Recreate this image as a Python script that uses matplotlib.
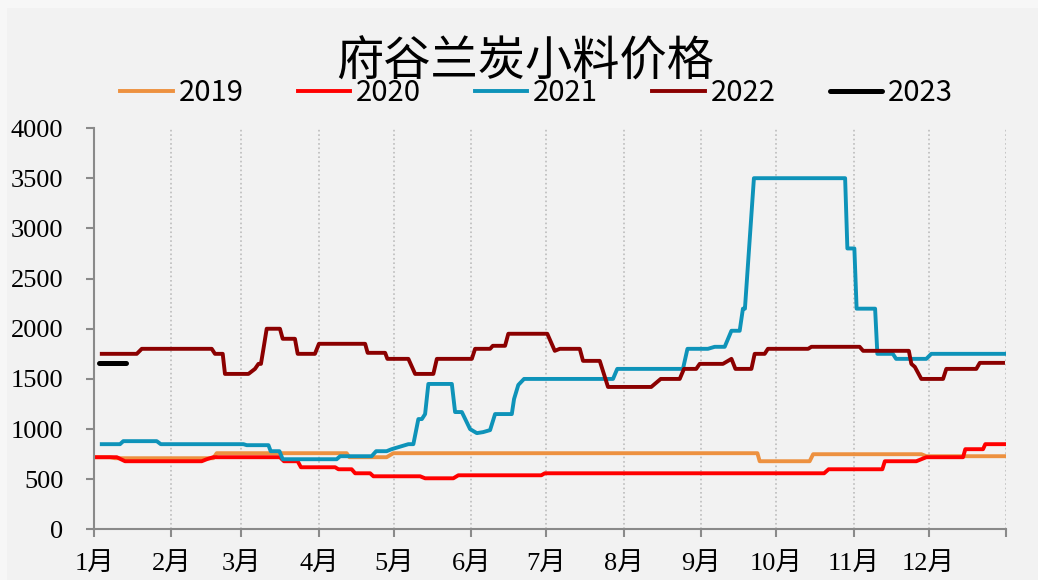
import matplotlib
matplotlib.use('Agg')
import matplotlib.pyplot as plt
from matplotlib.patches import Rectangle

# day of year (0 = 1月1日) and price for each series
days_2019 = [1.1, 6.4, 8.4, 47.7, 49.1, 101.1, 102.2, 117.1, 119.8, 265.5, 266.4, 286.4, 287.8, 331.1, 333.1, 364.7]
price_2019 = [720, 720, 710, 710, 760, 760, 720, 720, 760, 760, 680, 680, 750, 750, 730, 730]

days_2020 = [1.1, 9.1, 12.4, 43.1, 45.1, 47.7, 74.4, 76.0, 81.5, 82.8, 96.5, 97.8, 103.1, 104.5, 110.5, 111.8,
             130.5, 132.5, 143.8, 145.8, 179.0, 180.4, 292.2, 294.0, 315.5, 316.5, 329.1, 333.1, 347.8, 348.7,
             355.8, 356.7, 364.7]
price_2020 = [720, 720, 680, 680, 700, 720, 720, 680, 680, 620, 620, 600, 600, 560, 560, 530,
              530, 510, 510, 540, 540, 560, 560, 600, 600, 680, 680, 720, 720, 800,
              800, 850, 850]

days_2021 = [3.1, 10.4, 11.7, 25.1, 26.7, 59.8, 61.1, 69.8, 70.7, 74.2, 75.5, 97.1, 98.5, 111.1, 112.9, 117.1,
             119.1, 125.8, 127.8, 129.8, 131.2, 132.5, 133.8, 143.2, 144.5, 147.2, 150.5, 153.2, 155.7, 158.5,
             160.5, 167.2, 168.1, 169.8, 172.1, 207.7, 209.4, 235.7, 237.5, 245.7, 248.4, 252.4, 255.1, 258.4,
             259.7, 260.5, 264.1, 300.6, 301.5, 304.3, 305.2, 312.6, 313.5, 319.7, 321.0, 333.1, 335.1, 364.7]
price_2021 = [850, 850, 880, 880, 850, 850, 840, 840, 780, 780, 700, 700, 730, 730, 780, 780,
              800, 850, 850, 1100, 1100, 1150, 1450, 1450, 1170, 1170, 1000, 960, 970, 990,
              1150, 1150, 1300, 1440, 1500, 1500, 1600, 1600, 1800, 1800, 1820, 1820, 1980, 1980,
              2200, 2200, 3500, 3500, 2800, 2800, 2200, 2200, 1750, 1750, 1700, 1700, 1750, 1750]

days_2022 = [3.1, 17.1, 19.1, 47.1, 48.4, 51.5, 52.4, 61.8, 64.4, 65.8, 66.8, 67.8, 69.1, 74.4, 75.5, 80.4,
             81.5, 88.4, 90.0, 108.5, 109.5, 116.5, 117.4, 125.8, 128.5, 135.8, 137.2, 151.2, 152.5, 158.5,
             159.6, 164.5, 165.8, 181.4, 184.4, 186.4, 194.4, 195.7, 202.4, 205.7, 223.0, 226.8, 234.4, 236.1,
             241.0, 242.4, 251.7, 255.1, 256.7, 263.1, 264.4, 268.4, 269.7, 285.8, 287.1, 306.4, 307.8, 326.1,
             327.1, 328.5, 331.1, 339.8, 341.1, 353.1, 354.5, 363.8]
price_2022 = [1750, 1750, 1800, 1800, 1750, 1750, 1550, 1550, 1600, 1650, 1650, 1800, 2000, 2000, 1900, 1900,
              1750, 1750, 1850, 1850, 1760, 1760, 1700, 1700, 1550, 1550, 1700, 1700, 1800, 1800,
              1830, 1830, 1950, 1950, 1780, 1800, 1800, 1680, 1680, 1420, 1420, 1500, 1500, 1600,
              1600, 1650, 1650, 1700, 1600, 1600, 1750, 1750, 1800, 1800, 1820, 1820, 1780, 1780,
              1650, 1620, 1500, 1500, 1600, 1600, 1660, 1660]

days_2023 = [2.0, 12.8]
price_2023 = [1660, 1660]

month_starts = [0, 31, 59, 90, 120, 151, 181, 212, 243, 273, 304, 334, 365]
month_labels = ['1月', '2月', '3月', '4月', '5月', '6月', '7月', '8月', '9月', '10月', '11月', '12月', '']
y_ticks = [0, 500, 1000, 1500, 2000, 2500, 3000, 3500, 4000]

plt.rcParams['font.family'] = ['Liberation Serif', 'Noto Sans CJK SC']

fig = plt.figure(figsize=(10.38, 5.8), dpi=100)
fig.patch.set_facecolor('#f7f7f7')
fig.add_artist(Rectangle((7 / 1038, 0), 1, 572 / 580, transform=fig.transFigure,
                         facecolor='#f2f2f2', edgecolor='none', zorder=-1))

ax = fig.add_axes([0.0906, 0.0871, 0.8786, 0.6922])
ax.set_facecolor('#f2f2f2')

ax.plot(days_2019, price_2019, color='#ED9140', lw=2.8, label='2019')
ax.plot(days_2020, price_2020, color='#FF0000', lw=2.8, label='2020')
ax.plot(days_2021, price_2021, color='#0E93B9', lw=2.8, label='2021')
ax.plot(days_2022, price_2022, color='#8B0000', lw=2.8, label='2022')
ax.plot(days_2023, price_2023, color='black', lw=3.6, solid_capstyle='round', label='2023')

ax.set_xlim(0, 365)
ax.set_ylim(0, 4000)
ax.set_xticks(month_starts)
ax.set_xticklabels(month_labels)
ax.set_yticks(y_ticks)
ax.set_yticklabels([str(v) for v in y_ticks])

ax.grid(axis='x', color='#bdbdbd', ls=':', lw=1.2)
ax.set_axisbelow(True)

for side in ['top', 'right']:
    ax.spines[side].set_visible(False)
for side in ['left', 'bottom']:
    ax.spines[side].set_color('#8a8a8a')
    ax.spines[side].set_linewidth(1.5)

ax.tick_params(axis='y', direction='out', length=6, width=1.5, color='#8a8a8a', pad=16, labelsize=19)
ax.tick_params(axis='x', direction='out', length=6, width=1.5, color='#8a8a8a', pad=11, labelsize=19)

# title sits partly over the legend, as in the original
fig.text(0.506, 0.893, '府谷兰炭小料价格', ha='center', va='center', fontsize=34,
         family='Noto Sans CJK SC')

handles, labels = ax.get_legend_handles_labels()
fig.legend(handles, labels, loc='center', bbox_to_anchor=(0.517, 0.839), ncol=5, frameon=False,
           prop={'family': 'Noto Sans CJK SC', 'size': 21}, handlelength=1.8, handletextpad=0.2,
           columnspacing=1.85)

fig.savefig('out.png', dpi=100, facecolor=fig.get_facecolor())
